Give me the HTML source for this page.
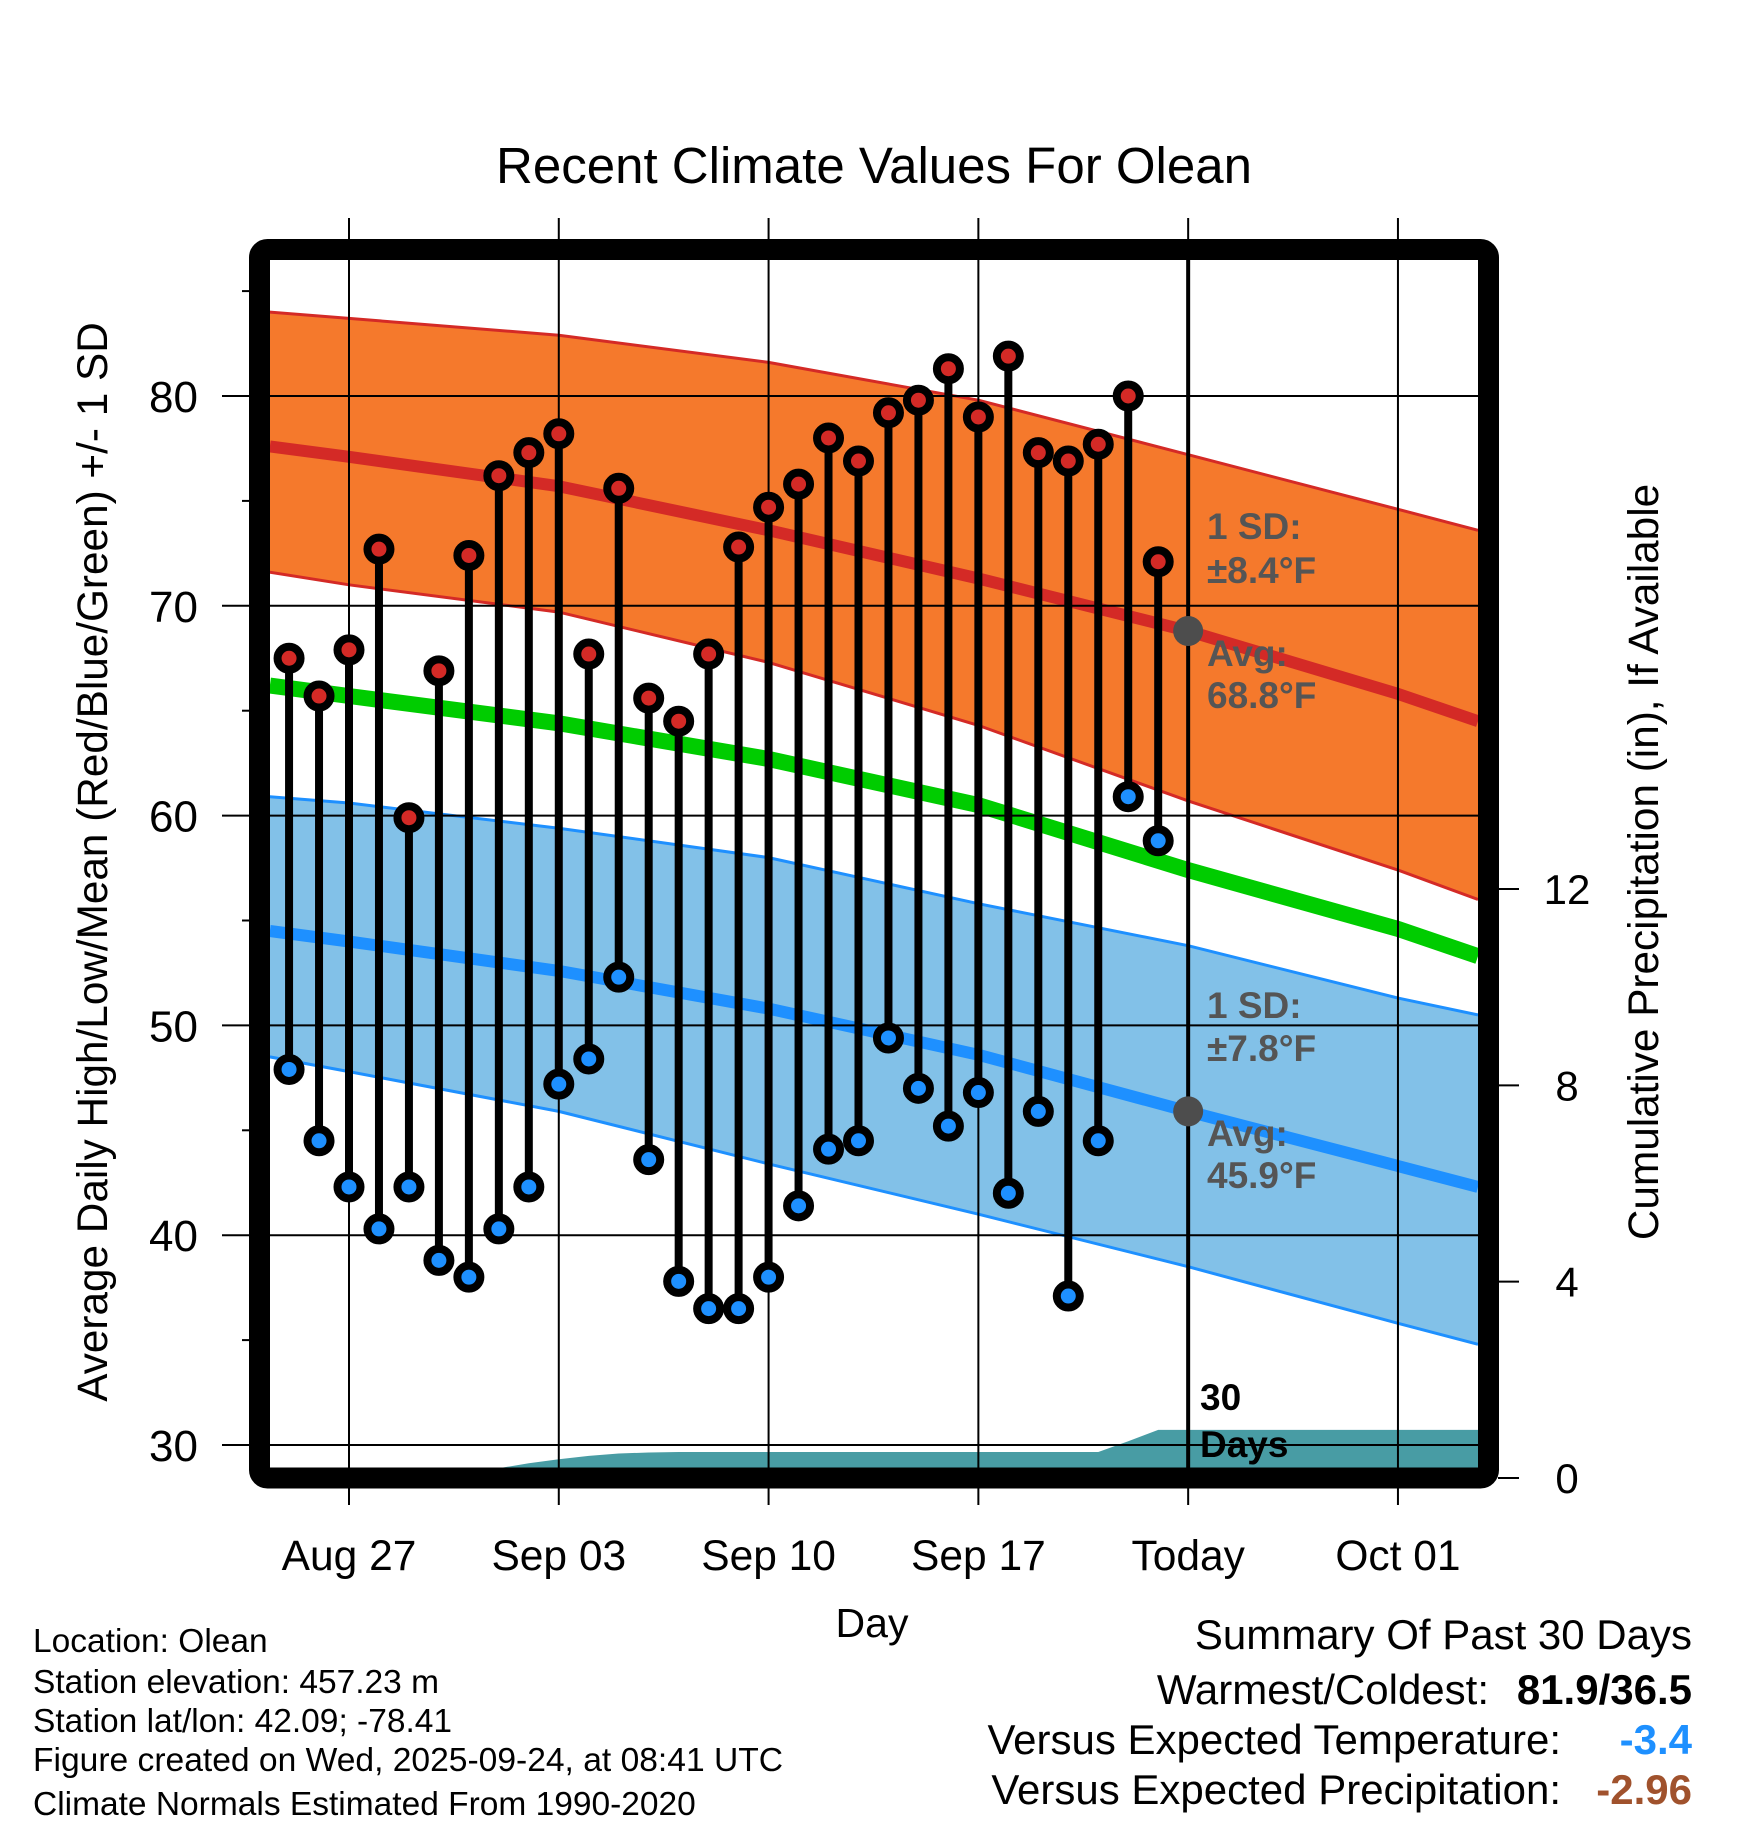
<!DOCTYPE html>
<html><head><meta charset="utf-8"><style>
html,body{margin:0;padding:0;background:#fff;}
svg{display:block;font-family:"Liberation Sans",Arial,sans-serif;}
</style></head><body>
<svg id="chart" width="1748" height="1828" viewBox="0 0 1748 1828" xmlns="http://www.w3.org/2000/svg">
<defs><clipPath id="plotclip"><rect x="270" y="260" width="1208" height="1208"/></clipPath></defs>
<g id="bands" clip-path="url(#plotclip)"></g>
<g id="grid"></g>
<g id="marks" clip-path="url(#plotclip)"></g>
<rect x="259.5" y="249.5" width="1229" height="1228.5" rx="8" fill="none" stroke="#000" stroke-width="21"/>
<g id="axes"></g>
<text x="874" y="183" font-size="51" text-anchor="middle">Recent Climate Values For Olean</text>
<text x="872" y="1637" font-size="41" text-anchor="middle">Day</text>
<text transform="translate(107,862) rotate(-90)" font-size="42.3" text-anchor="middle">Average Daily High/Low/Mean (Red/Blue/Green) +/- 1 SD</text>
<text transform="translate(1658,862) rotate(-90)" font-size="42.3" text-anchor="middle">Cumulative Precipitation (in), If Available</text>
<g font-size="37" font-weight="bold" fill="#555">
<text x="1207" y="539">1 SD:</text>
<text x="1207" y="583">±8.4°F</text>
<text x="1207" y="666">Avg:</text>
<text x="1207" y="708">68.8°F</text>
<text x="1207" y="1018">1 SD:</text>
<text x="1207" y="1061">±7.8°F</text>
<text x="1207" y="1146">Avg:</text>
<text x="1207" y="1188">45.9°F</text>
</g>
<g font-size="37" font-weight="bold" fill="#000">
<text x="1200" y="1410">30</text><text x="1200" y="1457">Days</text>
</g>
<g font-size="33.5" fill="#000">
<text x="33" y="1652">Location: Olean</text>
<text x="33" y="1693">Station elevation: 457.23 m</text>
<text x="33" y="1732">Station lat/lon: 42.09; -78.41</text>
<text x="33" y="1771" textLength="750" lengthAdjust="spacingAndGlyphs">Figure created on Wed, 2025-09-24, at 08:41 UTC</text>
<text x="33" y="1815">Climate Normals Estimated From 1990-2020</text>
</g>
<g font-size="42" fill="#000" text-anchor="end">
<text x="1692" y="1649">Summary Of Past 30 Days</text>
<text x="1489" y="1704">Warmest/Coldest:</text>
<text x="1692" y="1704" font-weight="bold">81.9/36.5</text>
<text x="1561" y="1754">Versus Expected Temperature:</text>
<text x="1692" y="1754" font-weight="bold" fill="#1e90ff">-3.4</text>
<text x="1561" y="1804">Versus Expected Precipitation:</text>
<text x="1692" y="1804" font-weight="bold" fill="#a0522d">-2.96</text>
</g>
</svg>
<script>
// days offset from Aug 27
const normDays = [-2.64, 0, 7, 14, 21, 28, 35, 37.67];
const highUpper = [84.0, 83.7, 82.9, 81.6, 79.8, 77.2, 74.6, 73.6];
const highAvg   = [77.6, 77.1, 75.7, 73.6, 71.3, 68.8, 65.8, 64.5];
const highLower = [71.6, 71.0, 69.7, 67.3, 64.3, 60.7, 57.4, 56.0];
const meanAvg   = [66.2, 65.7, 64.4, 62.7, 60.5, 57.4, 54.6, 53.3];
const lowUpper  = [60.9, 60.6, 59.4, 58.0, 55.8, 53.8, 51.3, 50.5];
const lowAvg    = [54.5, 54.0, 52.6, 50.8, 48.6, 45.9, 43.3, 42.3];
const lowLower  = [48.5, 47.8, 45.9, 43.4, 41.0, 38.5, 35.8, 34.8];
const firstDay = -2; // Aug 25
const highs = [67.5,65.7,67.9,72.7,59.9,66.9,72.4,76.2,77.3,78.2,67.7,75.6,65.6,64.5,67.7,72.8,74.7,75.8,78.0,76.9,79.2,79.8,81.3,79.0,81.9,77.3,76.9,77.7,80.0,72.1];
const lows  = [47.9,44.5,42.3,40.3,42.3,38.8,38.0,40.3,42.3,47.2,48.4,52.3,43.6,37.8,36.5,36.5,38.0,41.4,44.1,44.5,49.4,47.0,45.2,46.8,42.0,45.9,37.1,44.5,60.9,58.8];
const precipCum = [0,0,0,0,0.05,0.1,0.15,0.2,0.3,0.38,0.45,0.5,0.52,0.53,0.53,0.53,0.53,0.53,0.53,0.53,0.53,0.53,0.53,0.53,0.53,0.53,0.53,0.53,0.75,0.98];
const xTickDays = [0, 7, 14, 21, 28, 35];
const xTickLabels = ["Aug 27","Sep 03","Sep 10","Sep 17","Today","Oct 01"];
const yTicks = [30,40,50,60,70,80];
const y2Ticks = [0,4,8,12];
const todayDay = 28;
const todayHigh = 68.8, todayLow = 45.9;

const NS = "http://www.w3.org/2000/svg";
const X = d => 349 + d * 29.97;
const Y = v => 396 + (80 - v) * 20.98;
const Y2 = p => 1478 - p * 49.08;
function mk(tag, attrs, parent){const e=document.createElementNS(NS,tag);for(const k in attrs)e.setAttribute(k,attrs[k]);parent.appendChild(e);return e;}
const bands=document.getElementById('bands'), grid=document.getElementById('grid'), marks=document.getElementById('marks'), axes=document.getElementById('axes');
function pts(arr){return normDays.map((d,i)=>X(d).toFixed(1)+','+Y(arr[i]).toFixed(1));}
function band(up,lo,fill,edge,name){
  const p=pts(up).concat(pts(lo).reverse()).join(' ');
  const poly=mk('polygon',{points:p,fill:fill},bands);
  
  
  [up,lo].forEach(a=>{const l=mk('polyline',{points:pts(a).join(' '),fill:'none',stroke:edge,'stroke-width':3},bands);
    
    });
}
function line(arr,color,w,name){const l=mk('polyline',{points:pts(arr).join(' '),fill:'none',stroke:color,'stroke-width':w,'stroke-linejoin':'round'},bands);
  
  }
band(highUpper,highLower,'#f5792c','#d42a26','high-sd-band');
band(lowUpper,lowLower,'#82c1e8','#1e90ff','low-sd-band');
line(meanAvg,'#00cc00',16,'mean-normal-line');
line(highAvg,'#d42a26',12,'high-normal-line');
line(lowAvg,'#1e90ff',12,'low-normal-line');
{
  let p=[];
  precipCum.forEach((v,i)=>p.push(X(firstDay+i).toFixed(1)+','+Y2(v).toFixed(1)));
  p.push(X(38)+','+Y2(precipCum[precipCum.length-1]).toFixed(1));
  p.push(X(38)+','+Y2(0)); p.push(X(firstDay)+','+Y2(0));
  const a=mk('polygon',{points:p.join(' '),fill:'#489ca4'},bands);
  
  
}
xTickDays.forEach((d,i)=>{
  const g=mk('line',{x1:X(d),x2:X(d),y1:218,y2:1505,stroke:'#000','stroke-width':2},grid);
  
  
  const t=mk('text',{x:X(d),y:1570,'font-size':42.5,'text-anchor':'middle'},axes);
  t.textContent=xTickLabels[i];
  
  
});
yTicks.forEach(v=>{
  const g=mk('line',{x1:222,x2:1478,y1:Y(v),y2:Y(v),stroke:'#000','stroke-width':2},grid);
  
  
  const t=mk('text',{x:198,y:Y(v)+16,'font-size':44,'text-anchor':'end'},axes);
  t.textContent=v;
  
  
});
[35,45,55,65,75,85].forEach(v=>{
  const m=mk('line',{x1:242,x2:250,y1:Y(v),y2:Y(v),stroke:'#000','stroke-width':2},grid);
  
  
});
y2Ticks.forEach(v=>{
  const m=mk('line',{x1:1498,x2:1519,y1:Y2(v),y2:Y2(v),stroke:'#000','stroke-width':2},axes);
  
  
  const t=mk('text',{x:1567,y:Y2(v)+15,'font-size':42,'text-anchor':'middle'},axes);
  t.textContent=v;
  
  
});
{const l=mk('line',{x1:X(todayDay),x2:X(todayDay),y1:255,y2:1470,stroke:'#000','stroke-width':4},marks);
 
 }
highs.forEach((h,i)=>{
  const x=X(firstDay+i);
  const s=mk('line',{x1:x,x2:x,y1:Y(h),y2:Y(lows[i]),stroke:'#000','stroke-width':8},marks);
  
  
});
highs.forEach((h,i)=>{
  const x=X(firstDay+i);
  const c1=mk('circle',{cx:x,cy:Y(h),r:11.5,fill:'#d42a26',stroke:'#000','stroke-width':8},marks);
  
  
  const c2=mk('circle',{cx:x,cy:Y(lows[i]),r:11.5,fill:'#1e90ff',stroke:'#000','stroke-width':8},marks);
  
  
});
[todayHigh,todayLow].forEach(v=>{
  const c=mk('circle',{cx:X(todayDay),cy:Y(v),r:15,fill:'#4d4d4d'},marks);
  
  
});
</script>
</body></html>
